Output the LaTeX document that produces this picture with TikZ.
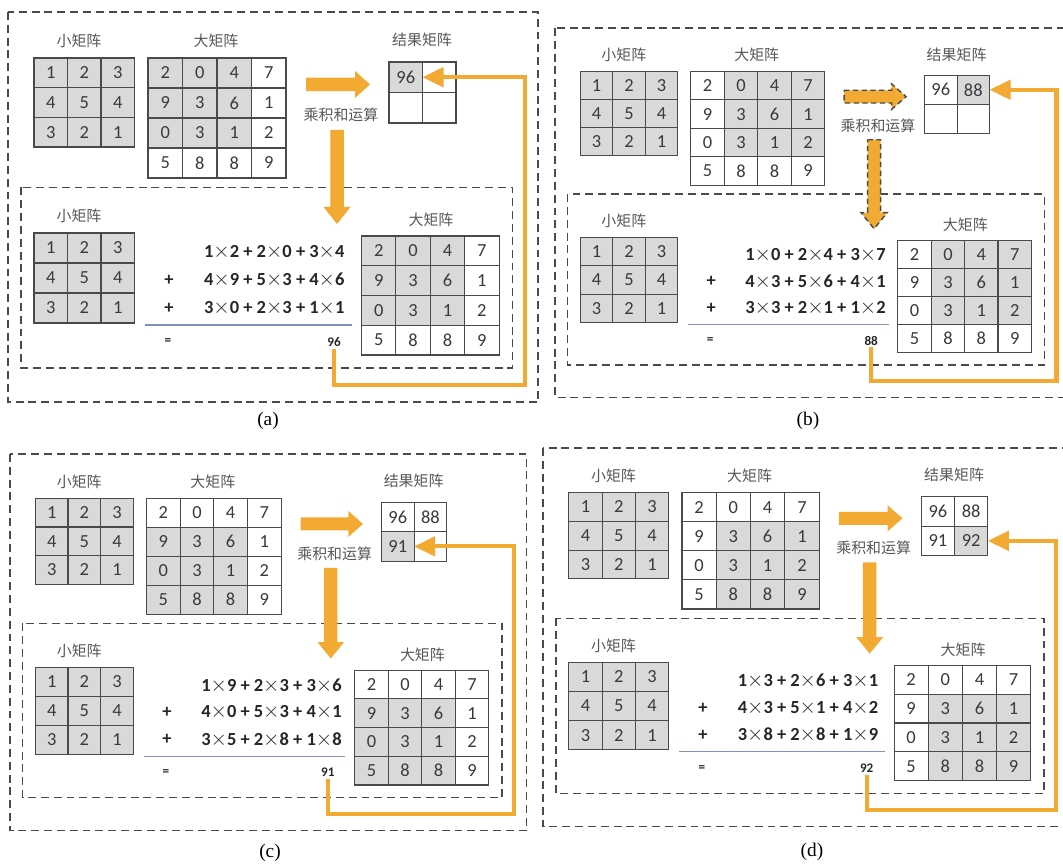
\documentclass[tikz,border=0pt]{standalone}
\usepackage{fontspec}
\setmainfont{Carlito}
\newfontfamily\cjk{Noto Sans CJK SC}
\newfontfamily\capfont{Liberation Serif}
\usepackage{tikz}
\usetikzlibrary{arrows.meta}
\definecolor{conv-orange}{HTML}{F2AA33}
\definecolor{conv-gray}{HTML}{D9D9D9}
\definecolor{conv-line}{HTML}{4A4A4A}
\definecolor{conv-text}{HTML}{3A3A3A}
\definecolor{conv-rule}{HTML}{8090C0}

\newcommand{\mulsign}{{\large$\times$}}

% grid of numbers: name, x, y, cell w, cell h, row off, col off, rows
\newcommand{\convgrid}[8]{%
  \foreach \row [count=\ii from 0] in {#8}
    \foreach \v [count=\jj from 0] in \row {
      \pgfmathtruncatemacro\insel{(\ii>=#6)&&(\ii<=#6+2)&&(\jj>=#7)&&(\jj<=#7+2)}
      \ifnum\insel=1 \def\cellfill{conv-gray}\else\def\cellfill{white}\fi
      \fill[\cellfill] ({#2+#4*\jj},{#3+#5*\ii}) rectangle ++(#4,#5);
      \node[num] (#1\ii\jj) at ({#2+#4*(\jj+0.5)},{#3+#5*(\ii+0.5)}) {\v};
    }%
  \foreach \row [count=\ii from 0] in {#8}
    \foreach \v [count=\jj from 0] in \row
      \draw[cell] ({#2+#4*\jj},{#3+#5*\ii}) rectangle ++(#4,#5);
}

% one step: prefix, row off, col off, result cells, target cell, 3 lines, sum
\newcommand{\convpanel}[9]{%
  \draw[frame] (0,0) rectangle (530,390);
  \draw[frame] (13,175.5) rectangle (504.5,356);
  \node[lbl] (#1-ls) at (71,28.5) {小矩阵};
  \node[lbl] (#1-lb) at (208,28.5) {大矩阵};
  \node[lbl] (#1-lr) at (414,28) {结果矩阵};
  \node[lbl] (#1-op) at (333,103) {乘积和运算};
  \node[lbl] (#1-ls2) at (71,204) {小矩阵};
  \node[lbl] (#1-lb2) at (423,208) {大矩阵};
  \convgrid{#1-s}{26}{46}{33.5}{29.67}{0}{0}{{1,2,3},{4,5,4},{3,2,1}}
  \convgrid{#1-b}{140}{46}{34.5}{30}{#2}{#3}{{2,0,4,7},{9,3,6,1},{0,3,1,2},{5,8,8,9}}
  \convgrid{#1-is}{26}{221}{33.5}{30}{0}{0}{{1,2,3},{4,5,4},{3,2,1}}
  \convgrid{#1-ib}{353.5}{224}{34.4}{29.75}{#2}{#3}{{2,0,4,7},{9,3,6,1},{0,3,1,2},{5,8,8,9}}
  \foreach \ii/\jj/\v/\f in {#4} {
    \filldraw[cell, fill=\f] ({381+33.5*\jj},{50+30.5*\ii}) rectangle ++(33.5,30.5);
    \node[num] (#1-r\ii\jj) at ({381+33.5*(\jj+0.5)},{50+30.5*(\ii+0.5)}) {\v};
    \coordinate (#1-re\ii\jj) at ({381+33.5*(\jj+1)},{50+30.5*(\ii+0.5)});
  }
  \path[bigarrow] (298,65.75) -- (347,65.75) -- (347,59) -- (362,72.5)
    -- (347,86) -- (347,79.25) -- (298,79.25) -- cycle;
  \path[bigarrow] (322.25,118) -- (335.75,118) -- (335.75,195) -- (342.5,195)
    -- (329,212) -- (315.5,195) -- (322.25,195) -- cycle;
  \node[eq] (#1-eq1) at (194,240) {#6};
  \node[eq] (#1-eq2) at (194,268) {#7};
  \node[eq] (#1-eq3) at (194,296) {#8};
  \node[eqsign] (#1-p2) at (161,268) {+};
  \node[eqsign] (#1-p3) at (161,296) {+};
  \draw[rule] (137,313) -- (344,313);
  \node[sumtext] (#1-eqs) at (160,330) {=};
  \node[sumtext] (#1-sum) at (326,330) {#9};
  \coordinate (#1-fb) at (517,373);
  \draw[feedback] (#1-sum.south) |- (#1-fb) |- (#1-re#5);
}

\begin{document}
\begin{tikzpicture}[
    x=0.02cm, y=-0.02cm,
    frame/.style={draw=conv-line, line width=0.8pt, dash pattern=on 4.5pt off 2.8pt},
    cell/.style={draw=conv-line, line width=0.6pt},
    num/.style={font=\fontsize{10.5}{12}\selectfont, text=conv-text, inner sep=1pt},
    lbl/.style={font=\cjk\fontsize{8.5}{10}\selectfont, text=conv-text!85},
    eq/.style={anchor=west, font=\bfseries\fontsize{10.5}{12}\selectfont, text=black!85, inner sep=1pt},
    eqsign/.style={font=\bfseries\fontsize{10.5}{12}\selectfont, text=black!85, inner sep=1pt},
    sumtext/.style={font=\bfseries\fontsize{7.5}{9}\selectfont, text=black!85, inner sep=1pt},
    rule/.style={draw=conv-rule, line width=0.6pt},
    bigarrow/.style={fill=conv-orange},
    feedback/.style={draw=conv-orange, line width=2.3pt,
                     -{Triangle[length=12pt, width=11pt]}},
    captext/.style={font=\capfont\fontsize{11}{13}\selectfont},
]
    \useasboundingbox (0,0) rectangle (1063,864);
    \clip (0,0) rectangle (1063,864);

    % (a)
    \begin{scope}[shift={(8,12)}]
        \convpanel{a}{0}{0}{0/0/96/conv-gray, 0/1/{}/white, 1/0/{}/white, 1/1/{}/white}{00}%
            {1\mulsign2 + 2\mulsign0 + 3\mulsign4}{4\mulsign9 + 5\mulsign3 + 4\mulsign6}%
            {3\mulsign0 + 2\mulsign3 + 1\mulsign1}{96}
    \end{scope}

    % (b)
    \begin{scope}[shift={(555,28)}, xscale=0.97, yscale=0.947,
                  bigarrow/.append style={draw=conv-line, line width=0.8pt, dash pattern=on 3pt off 2pt}]
        \convpanel{b}{0}{1}{0/0/96/white, 0/1/88/conv-gray, 1/0/{}/white, 1/1/{}/white}{01}%
            {1\mulsign0 + 2\mulsign4 + 3\mulsign7}{4\mulsign3 + 5\mulsign6 + 4\mulsign1}%
            {3\mulsign3 + 2\mulsign1 + 1\mulsign2}{88}
    \end{scope}

    % (c)
    \begin{scope}[shift={(10,454)}, xscale=0.975, yscale=0.965]
        \convpanel{c}{1}{0}{0/0/96/white, 0/1/88/white, 1/0/91/conv-gray, 1/1/{}/white}{10}%
            {1\mulsign9 + 2\mulsign3 + 3\mulsign6}{4\mulsign0 + 5\mulsign3 + 4\mulsign1}%
            {3\mulsign5 + 2\mulsign8 + 1\mulsign8}{91}
    \end{scope}

    % (d)
    \begin{scope}[shift={(543,448)}, xscale=0.993, yscale=0.97]
        \convpanel{d}{1}{1}{0/0/96/white, 0/1/88/white, 1/0/91/white, 1/1/92/conv-gray}{11}%
            {1\mulsign3 + 2\mulsign6 + 3\mulsign1}{4\mulsign3 + 5\mulsign1 + 4\mulsign2}%
            {3\mulsign8 + 2\mulsign8 + 1\mulsign9}{92}
    \end{scope}

    \node[captext] (cap-a) at (268,421) {(a)};
    \node[captext] (cap-b) at (808,421) {(b)};
    \node[captext] (cap-c) at (270,853) {(c)};
    \node[captext] (cap-d) at (812,852) {(d)};
\end{tikzpicture}
\end{document}
